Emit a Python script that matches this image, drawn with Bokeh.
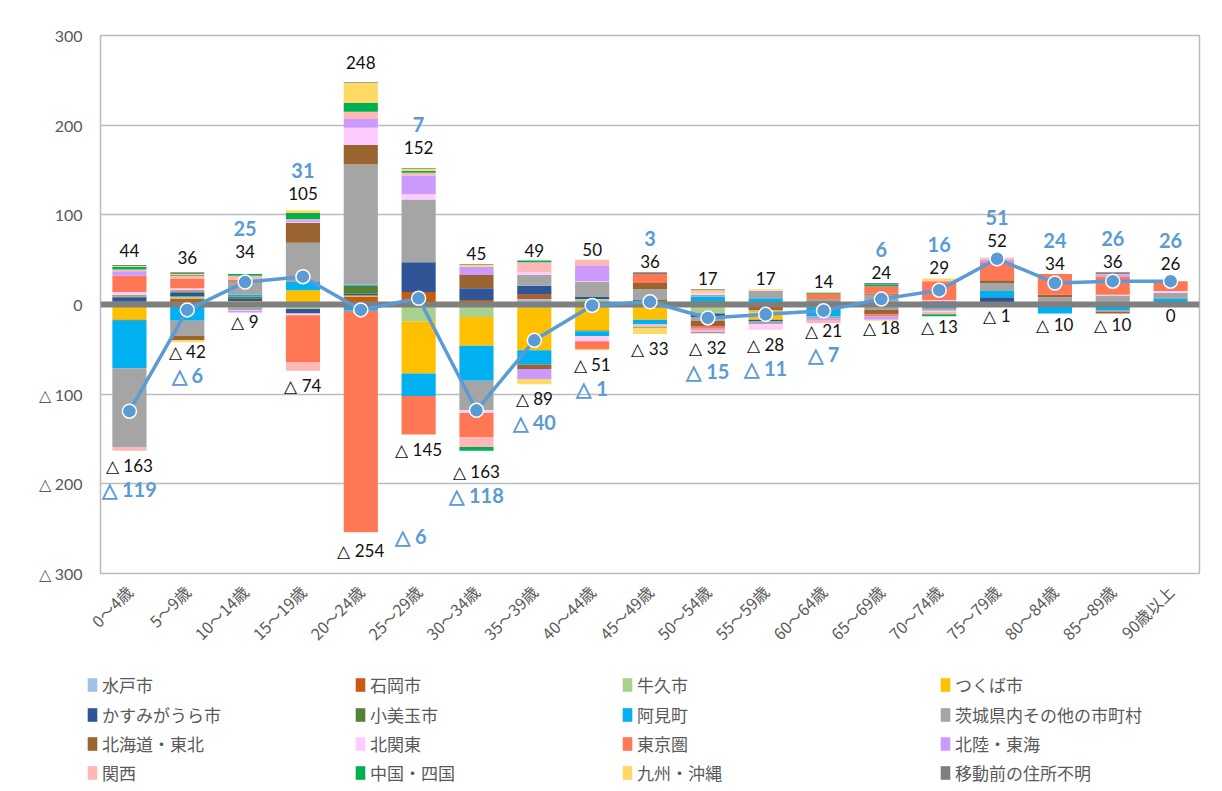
import math
from bokeh.plotting import figure
from bokeh.models import (ColumnDataSource, FactorRange, Range1d, SingleIntervalTicker,
                          CustomJSTickFormatter, Legend, LegendItem)
from bokeh.layouts import column
from bokeh.embed import file_html
from bokeh.resources import INLINE
from bokeh.core.properties import value

# ---------------- data ----------------
ages = ["0～4歳", "5～9歳", "10～14歳", "15～19歳", "20～24歳", "25～29歳", "30～34歳",
        "35～39歳", "40～44歳", "45～49歳", "50～54歳", "55～59歳", "60～64歳", "65～69歳",
        "70～74歳", "75～79歳", "80～84歳", "85～89歳", "90歳以上"]

series = ["水戸市", "石岡市", "牛久市", "つくば市", "かすみがうら市", "小美玉市", "阿見町",
          "茨城県内その他の市町村", "北海道・東北", "北関東", "東京圏", "北陸・東海", "関西",
          "中国・四国", "九州・沖縄", "移動前の住所不明"]

# 転入 (positive) per series, per age group
mito_in      = [0, 1, 0, 0, 1, 0, 0, 6, 0, 0, 1, 0, 0, 0, 0, 0, 0, 0, 0]
ishioka_in   = [1, 5, 1, 3, 8, 14, 5, 5, 3, 0, 0, 0, 0, 0, 0, 0, 0, 0, 0]
ushiku_in    = [2, 3, 1, 0, 0, 0, 0, 0, 3, 0, 0, 1, 3, 0, 0, 0, 1, 0, 0]
tsukuba_in   = [0, 0, 2, 13, 1, 0, 0, 0, 0, 0, 0, 0, 0, 2, 0, 2, 0, 3, 2]
kasumi_in    = [5, 4, 3, 0, 2, 33, 13, 10, 3, 3, 2, 0, 0, 0, 0, 6, 0, 0, 0]
omitama_in   = [1, 1, 2, 0, 9, 0, 0, 0, 0, 2, 1, 1, 1, 0, 0, 0, 0, 0, 0]
ami_in       = [0, 0, 2, 9, 1, 0, 0, 0, 0, 0, 5, 5, 0, 1, 0, 7, 0, 0, 4]
other_in     = [1, 1, 14, 44, 134, 70, 0, 12, 16, 12, 2, 8, 2, 8, 4, 9, 7, 7, 7]
hokkaido_in  = [1, 1, 1, 22, 22, 0, 15, 0, 0, 7, 0, 0, 0, 1, 0, 3, 3, 0, 0]
kitakanto_in = [3, 2, 0, 1, 19, 6, 0, 3, 1, 0, 2, 1, 0, 0, 1, 0, 0, 1, 2]
tokyo_in     = [18, 11, 2, 0, 0, 0, 0, 0, 0, 10, 0, 0, 6, 8, 21, 20, 23, 20, 11]
hokuriku_in  = [5, 0, 0, 2, 10, 21, 9, 0, 17, 0, 0, 0, 0, 0, 0, 3, 0, 2, 0]
kansai_in    = [2, 3, 4, 1, 8, 3, 0, 11, 7, 0, 1, 0, 0, 0, 1, 2, 0, 1, 0]
chugoku_in   = [3, 1, 2, 7, 10, 2, 0, 2, 0, 0, 0, 0, 1, 2, 0, 0, 0, 0, 0]
kyushu_in    = [1, 1, 0, 3, 22, 2, 2, 0, 0, 0, 2, 1, 1, 0, 2, 0, 0, 0, 0]
unknown_in   = [1, 2, 0, 0, 1, 1, 1, 0, 0, 2, 1, 0, 0, 2, 0, 0, 0, 2, 0]

# 転出 (negative, given as magnitudes)
mito_out      = [0, 0, 0, 0, 0, 0, 2, 0, 0, 0, 0, 0, 0, 0, 0, 0, 0, 0, 0]
ishioka_out   = [0, 0, 0, 0, 0, 0, 0, 0, 0, 0, 0, 6, 0, 0, 0, 0, 0, 0, 0]
ushiku_out    = [2, 0, 4, 5, 0, 19, 12, 4, 0, 2, 10, 3, 0, 0, 0, 0, 0, 0, 0]
tsukuba_out   = [15, 1, 0, 0, 2, 58, 32, 47, 29, 15, 0, 8, 0, 0, 2, 0, 0, 1, 0]
kasumi_out    = [0, 0, 0, 5, 0, 0, 0, 0, 0, 0, 4, 2, 3, 0, 0, 0, 2, 0, 0]
omitama_out   = [1, 0, 0, 0, 0, 0, 0, 0, 1, 0, 0, 0, 0, 3, 0, 0, 0, 0, 0]
ami_out       = [53, 17, 0, 0, 5, 25, 39, 16, 5, 5, 0, 0, 10, 0, 2, 0, 8, 5, 0]
other_out     = [88, 17, 2, 0, 0, 0, 33, 0, 0, 0, 4, 3, 3, 3, 3, 1, 0, 2, 0]
hokkaido_out  = [0, 5, 0, 0, 0, 0, 0, 5, 0, 0, 6, 0, 0, 5, 0, 0, 0, 2, 0]
kitakanto_out = [0, 0, 1, 2, 0, 0, 3, 0, 6, 0, 0, 5, 0, 0, 1, 0, 0, 0, 0]
tokyo_out     = [0, 0, 0, 52, 247, 43, 27, 0, 9, 0, 3, 0, 0, 2, 0, 0, 0, 0, 0]
hokuriku_out  = [0, 0, 2, 0, 0, 0, 0, 11, 0, 0, 2, 0, 2, 4, 0, 0, 0, 0, 0]
kansai_out    = [4, 0, 0, 10, 0, 0, 11, 0, 0, 3, 2, 1, 3, 0, 3, 0, 0, 0, 0]
chugoku_out   = [0, 0, 0, 0, 0, 0, 4, 0, 0, 1, 0, 0, 0, 0, 2, 0, 0, 0, 0]
kyushu_out    = [0, 2, 0, 0, 0, 0, 0, 6, 1, 7, 0, 0, 0, 1, 0, 0, 0, 0, 0]
unknown_out   = [0, 0, 0, 0, 0, 0, 0, 0, 0, 0, 1, 0, 0, 0, 0, 0, 0, 0, 0]

ins = [mito_in, ishioka_in, ushiku_in, tsukuba_in, kasumi_in, omitama_in, ami_in, other_in,
       hokkaido_in, kitakanto_in, tokyo_in, hokuriku_in, kansai_in, chugoku_in, kyushu_in, unknown_in]
outs = [mito_out, ishioka_out, ushiku_out, tsukuba_out, kasumi_out, omitama_out, ami_out, other_out,
        hokkaido_out, kitakanto_out, tokyo_out, hokuriku_out, kansai_out, chugoku_out, kyushu_out, unknown_out]

# ---------------- style ----------------
colors = ["#9DC3E6", "#C55A11", "#A9D18E", "#FFC000", "#2F5597", "#548235", "#00B0F0", "#A5A5A5",
          "#9A6430", "#FFCCFF", "#FF7755", "#CC99FF", "#FFB7B7", "#00B050", "#FFD966", "#7F7F7F"]
NUM_FONT = value("Lato")
JP_FONT = "Noto Sans CJK JP"
BLUE = "#5B9BD5"
GREY_TXT = "#595959"
GRID = "#BBBBBB"

# ---------------- derived ----------------
n = len(ages)
pos_tot = [sum(s[i] for s in ins) for i in range(n)]
neg_tot = [sum(s[i] for s in outs) for i in range(n)]
net = [pos_tot[i] - neg_tot[i] for i in range(n)]

# label nudges in screen px (style only)
pos_nudge = [0] * n
for i, d in ((0, -4), (1, -4), (2, -12), (3, -6), (4, -9), (5, -10), (15, -7), (18, -7)):
    pos_nudge[i] = d
neg_nudge = [0] * n
for i, d in ((1, -5), (2, -6), (4, 4), (6, 6), (12, -7), (13, -8), (14, -4), (15, -4), (16, -3), (17, -3)):
    neg_nudge[i] = d
net_dx = [0] * n
net_dy = [0] * n
net_dx[4] = 50
net_dy[4] = -38

data = {"age": ages, "net": net}
for k in range(len(series)):
    data[f"in{k}"] = ins[k]
    data[f"out{k}"] = [-v for v in outs[k]]
src = ColumnDataSource(data)

p = figure(x_range=FactorRange(*ages, range_padding=0), y_range=Range1d(-300, 300),
           width=1214, height=665, output_backend="svg", toolbar_location=None,
           min_border_left=100, min_border_right=15, min_border_top=35, min_border_bottom=92)
p.frame_align = False
p.x_range.range_padding = 0
p.outline_line_color = GRID
p.outline_line_width = 1.5
p.xgrid.grid_line_color = None
p.ygrid.grid_line_color = GRID
p.ygrid.grid_line_width = 1.5
p.yaxis.ticker = SingleIntervalTicker(interval=100)
p.yaxis.formatter = CustomJSTickFormatter(code="return tick < 0 ? '△ ' + (-tick) : String(tick);")
for ax in (p.xaxis, p.yaxis):
    ax.axis_line_color = None
    ax.major_tick_line_color = None
    ax.minor_tick_line_color = None
    ax.major_label_text_color = GREY_TXT
    ax.major_label_text_font_size = "16px"
p.yaxis.major_label_text_font = "Lato"
p.yaxis.major_label_standoff = 12
p.xaxis.major_label_text_font = JP_FONT
p.xaxis.major_label_orientation = math.pi / 4
p.xaxis.major_label_standoff = 9

p.vbar_stack([f"in{k}" for k in range(len(series))], x="age", width=0.59,
             fill_color=colors, line_color=None, source=src)
p.vbar_stack([f"out{k}" for k in range(len(series))], x="age", width=0.59,
             fill_color=colors, line_color=None, source=src)

p.hspan(y=[0], line_color="#7F7F7F", line_width=6)

p.line(x="age", y="net", source=src, line_color=BLUE, line_width=3.5)
p.scatter(x="age", y="net", source=src, size=14, fill_color=BLUE, line_color="white", line_width=1.5)

# labels
pos_src = ColumnDataSource(dict(age=ages, y=pos_tot, t=[str(v) for v in pos_tot],
                                dy=[-4 + pos_nudge[i] for i in range(n)]))
neg_src = ColumnDataSource(dict(age=ages, y=[-v for v in neg_tot],
                                t=[("△ " + str(v)) if v > 0 else "0" for v in neg_tot],
                                dy=[4 + neg_nudge[i] for i in range(n)]))
p.text(x="age", y="y", text="t", source=pos_src, text_align="center", text_baseline="bottom",
       y_offset="dy", text_font=NUM_FONT, text_font_size="17px", text_color="#111111")
p.text(x="age", y="y", text="t", source=neg_src, text_align="center", text_baseline="top",
       y_offset="dy", text_font=NUM_FONT, text_font_size="17px", text_color="#111111")

net_up = [i for i in range(n) if net[i] > 0]
net_dn = [i for i in range(n) if net[i] < 0]
up_src = ColumnDataSource(dict(age=[ages[i] for i in net_up], y=[pos_tot[i] for i in net_up],
                               t=[str(net[i]) for i in net_up],
                               dy=[-26 + pos_nudge[i] for i in net_up]))
dn_src = ColumnDataSource(dict(age=[ages[i] for i in net_dn], y=[-neg_tot[i] for i in net_dn],
                               t=["△ " + str(-net[i]) for i in net_dn],
                               dx=[net_dx[i] for i in net_dn],
                               dy=[26 + neg_nudge[i] + net_dy[i] for i in net_dn]))
p.text(x="age", y="y", text="t", source=up_src, text_align="center", text_baseline="bottom",
       y_offset="dy", text_font=NUM_FONT, text_font_size="20px", text_font_style="bold",
       text_color=BLUE)
p.text(x="age", y="y", text="t", source=dn_src, text_align="center", text_baseline="top",
       x_offset="dx", y_offset="dy", text_font=NUM_FONT, text_font_size="20px",
       text_font_style="bold", text_color=BLUE)

# ---------------- legend ----------------
lg = figure(width=1214, height=126, x_range=Range1d(0, 1), y_range=Range1d(0, 1),
            output_backend="svg", toolbar_location=None, min_border=0,
            x_axis_location=None, y_axis_location=None)
lg.frame_align = False
lg.grid.visible = False
lg.outline_line_color = None
# legend boxes, in px from the legend figure's left/bottom edge
col_x = [86, 354, 621, 939]
row_y = [94, 64, 35, 6]
nan = float("nan")
for k, name in enumerate(series):
    r = lg.vbar(x=[nan], top=[nan], width=0.1, fill_color=colors[k], line_color=None)
    leg = Legend(items=[LegendItem(label=name, renderers=[r])],
                 location=(col_x[k % 4], row_y[k // 4]),
                 padding=0, margin=0, border_line_color=None, background_fill_alpha=0,
                 glyph_width=12, glyph_height=17, label_standoff=4,
                 label_text_font=JP_FONT, label_text_font_size="17px",
                 label_text_color=GREY_TXT)
    lg.add_layout(leg, "center")

layout = column(p, lg, spacing=0)
open("out.html", "w").write(file_html(layout, INLINE))
